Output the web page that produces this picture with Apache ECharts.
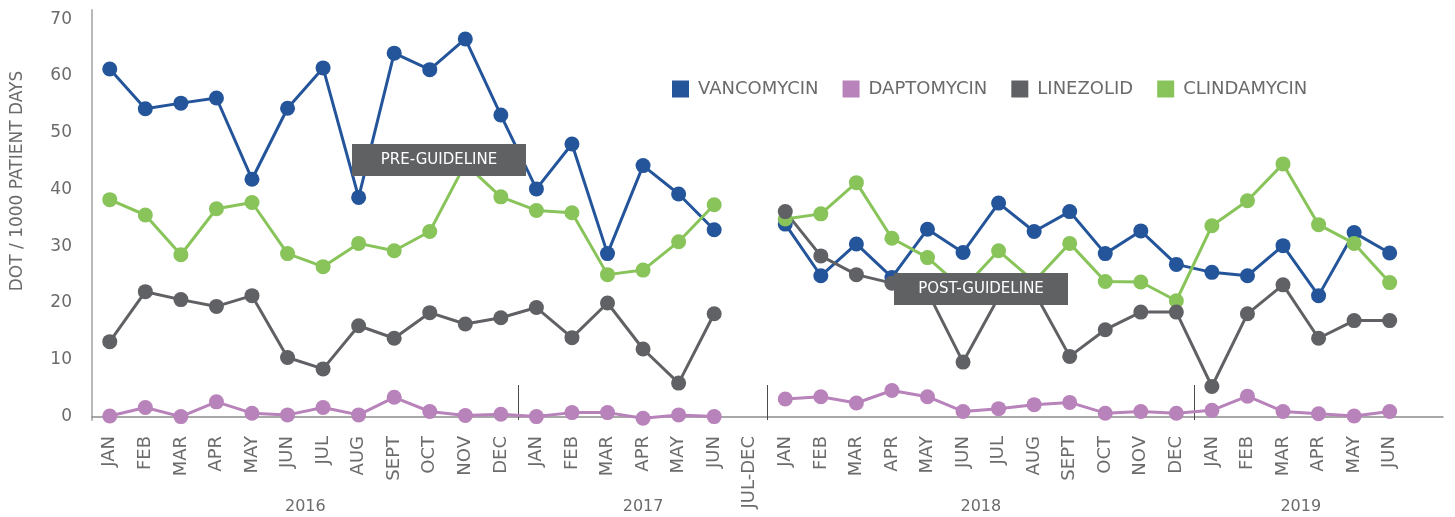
<!DOCTYPE html>
<html>
<head>
<meta charset="utf-8">
<script src="https://cdn.jsdelivr.net/npm/echarts@6/dist/echarts.min.js"></script>
<style>
  html, body { margin: 0; padding: 0; background: #fff; }
  #chart { width: 1455px; height: 517px; }
</style>
</head>
<body>
<div id="chart"></div>
<script>
// categories (the last one is an empty slot so the axis runs on past JUN 2019)
var months = [
  'JAN', 'FEB', 'MAR', 'APR', 'MAY', 'JUN', 'JUL', 'AUG', 'SEPT', 'OCT', 'NOV', 'DEC',
  'JAN', 'FEB', 'MAR', 'APR', 'MAY', 'JUN',
  'JUL-DEC',
  'JAN', 'FEB', 'MAR', 'APR', 'MAY', 'JUN', 'JUL', 'AUG', 'SEPT', 'OCT', 'NOV', 'DEC',
  'JAN', 'FEB', 'MAR', 'APR', 'MAY', 'JUN',
  ''
];
var yearLabels = ['2016', '2017', '2018', '2019'];
var yearSlots = [12, 31, 50, 68];     // half-category slots where each year sits
var dividerSlots = [24, 38, 62];      // half-category slots of the small year dividers

var vancomycin = [
  61.2, 54.2, 55.2, 56.1, 41.8, 54.3, 61.4, 38.6, 64.0, 61.1, 66.5, 53.1,
  40.1, 48.0, 28.7, 44.2, 39.2, 32.9,
  null,
  33.9, 24.8, 30.4, 24.5, 33.0, 28.9, 37.6, 32.6, 36.1, 28.7, 32.7, 26.8,
  25.4, 24.8, 30.1, 21.3, 32.4, 28.8,
  null
];
var daptomycin = [
  0.1, 1.6, 0, 2.6, 0.6, 0.3, 1.6, 0.3, 3.4, 0.9, 0.2, 0.4,
  0, 0.7, 0.7, -0.3, 0.3, 0,
  null,
  3.1, 3.5, 2.4, 4.6, 3.5, 0.9, 1.4, 2.1, 2.5, 0.6, 0.9, 0.6,
  1.1, 3.6, 0.9, 0.5, 0.1, 0.9,
  null
];
var linezolid = [
  13.2, 22.0, 20.6, 19.4, 21.3, 10.4, 8.4, 16.0, 13.8, 18.3, 16.3, 17.4,
  19.2, 13.9, 20.0, 11.9, 5.9, 18.1,
  null,
  36.1, 28.3, 25.0, 23.5, 22.0, 9.6, 21.0, 22.0, 10.6, 15.3, 18.4, 18.4,
  5.3, 18.1, 23.2, 13.8, 16.9, 16.9,
  null
];
var clindamycin = [
  38.2, 35.5, 28.5, 36.6, 37.7, 28.7, 26.4, 30.5, 29.2, 32.6, 44.5, 38.7,
  36.3, 35.9, 25.0, 25.8, 30.8, 37.3,
  null,
  34.8, 35.7, 41.2, 31.4, 28.0, 22.5, 29.2, 23.8, 30.5, 23.8, 23.7, 20.4,
  33.6, 38.0, 44.5, 33.8, 30.5, 23.6,
  null
];

var FONT = 'DejaVu Sans';
var TEXT = '#6b6b6b';

// half-step slots for the year row and the dividers
var halfSlots = [];
for (var i = 0; i <= months.length * 2; i++) {
  halfSlots.push(String(i));
}

function lineSeries(name, color, data) {
  return {
    name: name,
    type: 'line',
    data: data,
    symbol: 'circle',
    symbolSize: 15,
    connectNulls: false,
    lineStyle: { color: color, width: 3 },
    itemStyle: { color: color },
    emphasis: { disabled: true }
  };
}

var myChart = echarts.init(document.getElementById('chart'));
myChart.setOption({
  animation: false,
  textStyle: { fontFamily: FONT },
  grid: { left: 92, right: 12, top: 10, bottom: 97 },
  legend: {
    data: ['VANCOMYCIN', 'DAPTOMYCIN', 'LINEZOLID', 'CLINDAMYCIN'],
    icon: 'rect',
    left: 667,
    top: 75,
    itemWidth: 17,
    itemHeight: 17,
    itemGap: 24,
    textStyle: { fontFamily: FONT, fontSize: 18, color: TEXT, padding: [0, 0, 0, 4] }
  },
  xAxis: [{
    type: 'category',
    position: 'bottom',
    data: months,
    boundaryGap: true,
    axisLine: { lineStyle: { color: '#8c8c8c', width: 1.5 } },
    axisTick: { show: false },
    axisLabel: {
      rotate: 90,
      interval: 0,
      margin: 16,
      fontFamily: FONT,
      fontSize: 18,
      color: TEXT
    }
  }, {
    // year row
    type: 'category',
    position: 'bottom',
    data: halfSlots,
    boundaryGap: false,
    offset: 71,
    axisLine: { show: false },
    axisTick: { show: false },
    axisLabel: {
      interval: 0,
      margin: 8,
      fontFamily: FONT,
      fontSize: 16,
      color: TEXT,
      formatter: function(v, idx) {
        var k = yearSlots.indexOf(idx);
        return k >= 0 ? yearLabels[k] : '';
      }
    }
  }, {
    // short dividers between years
    type: 'category',
    position: 'bottom',
    data: halfSlots,
    boundaryGap: false,
    axisLine: { show: false },
    axisLabel: { show: false },
    axisTick: {
      show: true,
      inside: true,
      length: 35,
      interval: function(idx) {
        return dividerSlots.indexOf(idx) >= 0;
      },
      lineStyle: { color: '#4a4a4a', width: 1 }
    }
  }],
  yAxis: {
    type: 'value',
    min: -0.6,
    max: 71.6,
    splitNumber: 7,
    name: 'DOT / 1000 PATIENT DAYS',
    nameLocation: 'middle',
    nameGap: 66,
    nameTextStyle: { fontFamily: FONT, fontSize: 17, color: TEXT, padding: [0, 0, 0, 68] },
    axisLine: { show: true, lineStyle: { color: '#b8b8b8', width: 2 } },
    axisTick: { show: false },
    splitLine: { show: false },
    axisLabel: {
      margin: 20,
      fontFamily: FONT,
      fontSize: 17,
      color: TEXT,
      showMinLabel: false,
      showMaxLabel: false
    }
  },
  series: [
    lineSeries('VANCOMYCIN', '#24559a', vancomycin),
    lineSeries('DAPTOMYCIN', '#b882ba', daptomycin),
    lineSeries('CLINDAMYCIN', '#88c45a', clindamycin),
    lineSeries('LINEZOLID', '#606164', linezolid)
  ],
  graphic: [
    { type: 'rect', z: 100, shape: { x: 352, y: 144, width: 174, height: 32 }, style: { fill: '#606163' } },
    { type: 'text', z: 101, x: 439, y: 160,
      style: { text: 'PRE-GUIDELINE', fill: '#ffffff', font: '15px "DejaVu Sans"', align: 'center', verticalAlign: 'middle' } },
    { type: 'rect', z: 100, shape: { x: 894, y: 273, width: 174, height: 32 }, style: { fill: '#606163' } },
    { type: 'text', z: 101, x: 981, y: 289,
      style: { text: 'POST-GUIDELINE', fill: '#ffffff', font: '15px "DejaVu Sans"', align: 'center', verticalAlign: 'middle' } }
  ]
});
</script>
</body>
</html>
